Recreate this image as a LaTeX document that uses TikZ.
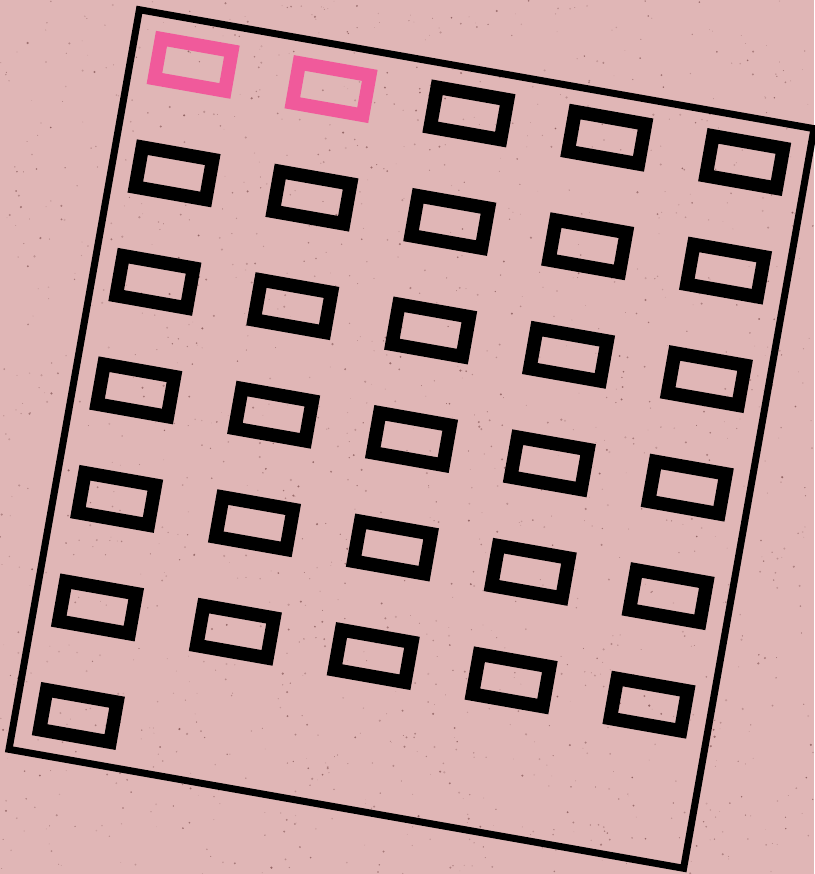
\documentclass[tikz,border=0pt]{standalone}
\definecolor{bgpink}{RGB}{224,182,182}
\definecolor{hotpink}{RGB}{240,90,155}
\definecolor{speck}{RGB}{105,58,58}
\begin{document}
\begin{tikzpicture}[x=1pt,y=-1pt,
  framebox/.style={draw=black,line width=7pt,line join=miter},
  cell/.style={draw=black,line width=13.5pt,line join=miter},
  hotcell/.style={cell,draw=hotpink}]
\useasboundingbox (0,0) rectangle (814,874);
\fill[bgpink] (0,0) rectangle (814,874);
\pgfmathsetseed{7}
\foreach \i in {1,...,1600}{
  \pgfmathsetmacro\op{0.15+0.5*rnd}
  \pgfmathsetmacro\rr{0.3+0.9*rnd}
  \fill[speck,opacity=\op] (rnd*814,rnd*874) circle (\rr);
}
\begin{scope}[shift={(411.5,439)},rotate=-10]
  \draw[framebox] (-342.5,-375.5) rectangle (342.5,375.5);
  \foreach \r in {1,...,7}{
    \foreach \c in {1,...,5}{
      \pgfmathtruncatemacro\skip{(\r==7 && \c>1) ? 1 : 0}
      \pgfmathtruncatemacro\ispink{(\r==1 && \c<3) ? 1 : 0}
      \ifnum\skip=0
        \ifnum\ispink=1
          \draw[hotcell] ({(\c-3)*140-35.75},{(\r-4)*110.2-20.25}) rectangle ++(71.5,40.5);
        \else
          \draw[cell] ({(\c-3)*140-35.75},{(\r-4)*110.2-20.25}) rectangle ++(71.5,40.5);
        \fi
      \fi
    }
  }
\end{scope}
\end{tikzpicture}
\end{document}
